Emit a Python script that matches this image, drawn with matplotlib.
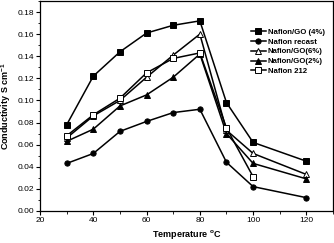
import matplotlib.pyplot as plt
from matplotlib.ticker import MultipleLocator

plt.rcParams['font.family'] = ['Liberation Sans', 'DejaVu Sans']

temp = [30, 40, 50, 60, 70, 80, 90, 100, 120]
temp_212 = [30, 40, 50, 60, 70, 80, 90, 100]

go4 = [0.078, 0.122, 0.144, 0.161, 0.168, 0.172, 0.098, 0.062, 0.045]
recast = [0.043, 0.052, 0.072, 0.081, 0.089, 0.092, 0.044, 0.022, 0.012]
go6 = [0.066, 0.086, 0.100, 0.121, 0.141, 0.160, 0.073, 0.052, 0.033]
go2 = [0.063, 0.074, 0.095, 0.105, 0.121, 0.142, 0.070, 0.043, 0.029]
n212 = [0.068, 0.087, 0.102, 0.125, 0.138, 0.143, 0.075, 0.031]


def main():
    fig = plt.figure(figsize=(3.34, 2.43), dpi=100)
    ax = fig.add_axes([0.12, 0.132, 0.877, 0.864])
    kw = dict(color='black', lw=1.1, ms=3.8, mew=0.7)
    ax.plot(temp, go4, marker='s', label='Nafion/GO (4%)', **kw)
    ax.plot(temp, recast, marker='o', label='Nafion recast', **kw)
    ax.plot(temp, go6, marker='^', mfc='white', label='Nafion/GO(6%)', **kw)
    ax.plot(temp, go2, marker='^', label='Nafion/GO(2%)', **kw)
    ax.plot(temp_212, n212, marker='s', mfc='white', label='Nafion 212', **kw)

    ax.set_xlim(20, 130)
    ax.set_ylim(0, 0.19)
    ax.set_xticks([20, 40, 60, 80, 100, 120])
    ax.set_yticks([0.00, 0.02, 0.04, 0.06, 0.08, 0.10, 0.12, 0.14, 0.16, 0.18])
    ax.xaxis.set_minor_locator(MultipleLocator(10))
    ax.yaxis.set_minor_locator(MultipleLocator(0.01))
    ax.tick_params(which='major', length=3, width=0.8, labelsize=6, pad=1.5)
    ax.tick_params(which='minor', length=1.8, width=0.6)
    for s in ax.spines.values():
        s.set_linewidth(0.9)

    ax.set_xlabel('Temperature $^{\\mathregular{o}}$C', fontsize=6.5,
                  fontweight='bold', labelpad=3)
    ax.set_ylabel('Conductivity S cm$^{\\mathregular{-1}}$', fontsize=6.5,
                  fontweight='bold', labelpad=3)

    ax.legend(loc='upper right', bbox_to_anchor=(0.99, 0.895), frameon=False,
              prop={'size': 5.6, 'weight': 'bold'}, handlelength=1.9,
              handletextpad=0.25, labelspacing=0.3, borderpad=0.2)
    fig.savefig('out.png', dpi=100)


if __name__ == '__main__':
    main()
